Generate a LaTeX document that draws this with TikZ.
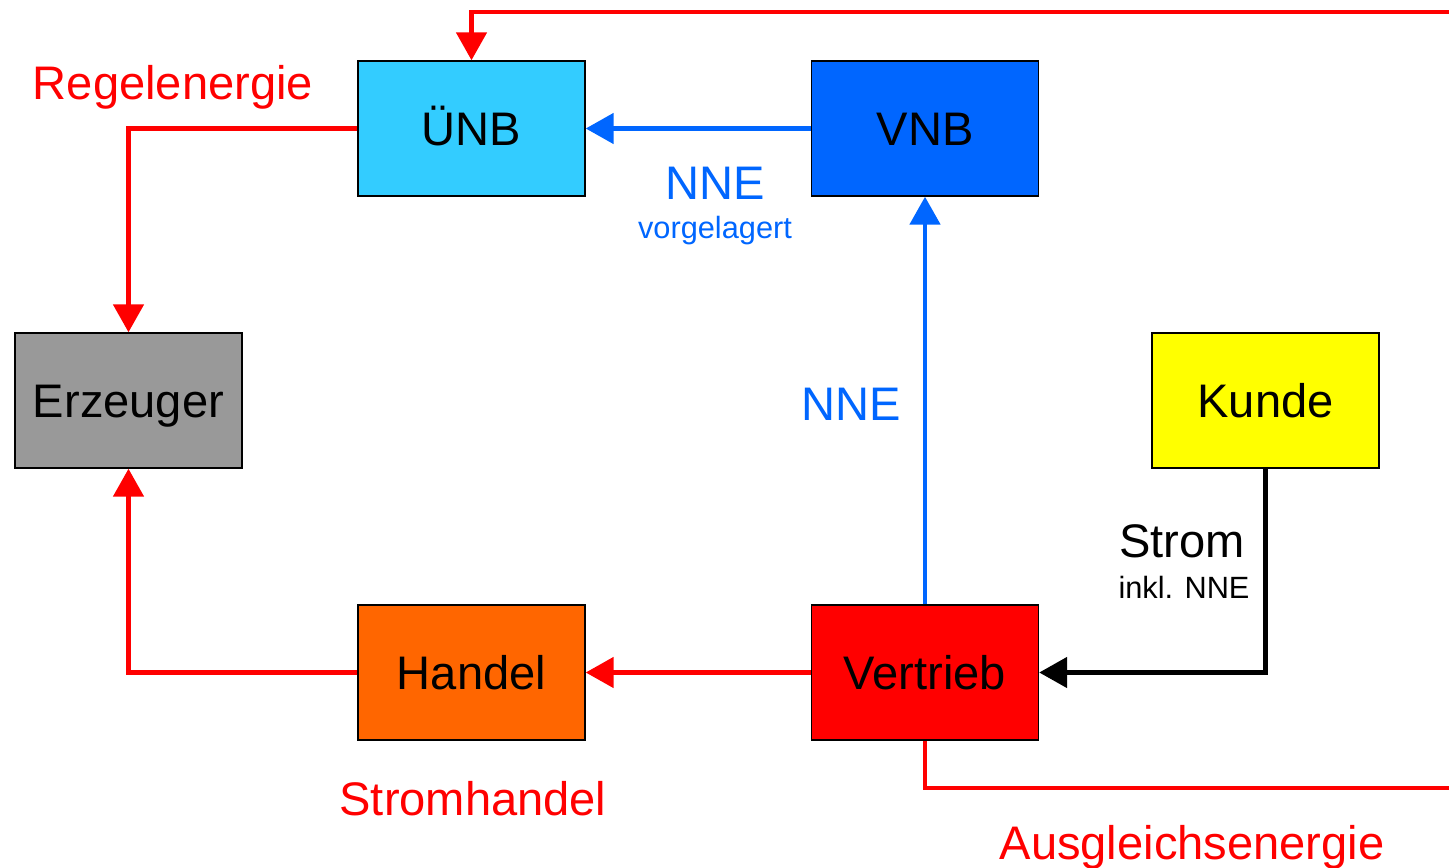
\documentclass[tikz,border=0pt]{standalone}
\usepackage{fontspec}
\setmainfont{Liberation Sans}
\usetikzlibrary{arrows.meta}
\definecolor{unbblue}{HTML}{33CCFF}
\definecolor{vnbblue}{HTML}{0066FF}
\definecolor{erzgray}{HTML}{999999}
\definecolor{kundeyellow}{HTML}{FFFF00}
\definecolor{handelorange}{HTML}{FF6600}
\definecolor{flowred}{HTML}{FF0000}

\begin{document}
\begin{tikzpicture}[x=0.02cm,y=-0.02cm,
    box/.style={draw=black,line width=0.8pt,minimum width=4.54cm,minimum height=2.7cm,
      inner sep=0pt,text height=19pt,text depth=0pt,font=\fontsize{26.8}{30}\selectfont},
    flow/.style={line width=2.8pt,-{Triangle[width=0.6cm,length=0.56cm]}},
    big/.style={anchor=base,inner sep=0pt,font=\fontsize{26.8}{30}\selectfont},
    small/.style={anchor=base,inner sep=0pt,font=\fontsize{17.5}{20}\selectfont}]
  \useasboundingbox (0,0) rectangle (1449,868);
  % boxes
  \node[box,fill=unbblue] (unb) at (471.5,128.5) {ÜNB};
  \node[box,fill=vnbblue] (vnb) at (925,128.5) {VNB};
  \node[box,fill=erzgray] (erz) at (128.5,400.5) {Erzeuger};
  \node[box,fill=kundeyellow] (kunde) at (1265.5,400.5) {Kunde};
  \node[box,fill=handelorange] (handel) at (471.5,672.5) {Handel};
  \node[box,fill=flowred] (vertrieb) at (925,672.5) {Vertrieb};
  % loose ends at the right edge
  \coordinate (topright) at (1449,12);
  \coordinate (botright) at (1449,788);
  % flows
  \draw[flow,flowred] (topright) -| (unb.north);
  \draw[flow,flowred] (unb.west) -| (erz.north);
  \draw[flow,flowred] (handel.west) -| (erz.south);
  \draw[flow,flowred] (vertrieb.west) -- (handel.east);
  \draw[flow,vnbblue] (vnb.west) -- (unb.east);
  \draw[flow,vnbblue] (vertrieb.north) -- (vnb.south);
  \draw[flow,black] (kunde.south) |- (vertrieb.east);
  \draw[line width=2.8pt,flowred] (vertrieb.south) |- (botright);
  % labels
  \node[big,flowred] (regel) at (173,100) {Regelenergie};
  \node[big,vnbblue] (nneup) at (715,199) {NNE};
  \node[small,vnbblue] (vorg) at (715,238) {vorgelagert};
  \node[big,vnbblue] (nnemid) at (851,420) {NNE};
  \node[big] (strom) at (1182,557) {Strom};
  \node[small] (inkl) at (1184,598) {inkl. NNE};
  \node[big,flowred] (sthandel) at (473,815) {Stromhandel};
  \node[big,flowred] (ausgl) at (1192,859) {Ausgleichsenergie};
\end{tikzpicture}
\end{document}
